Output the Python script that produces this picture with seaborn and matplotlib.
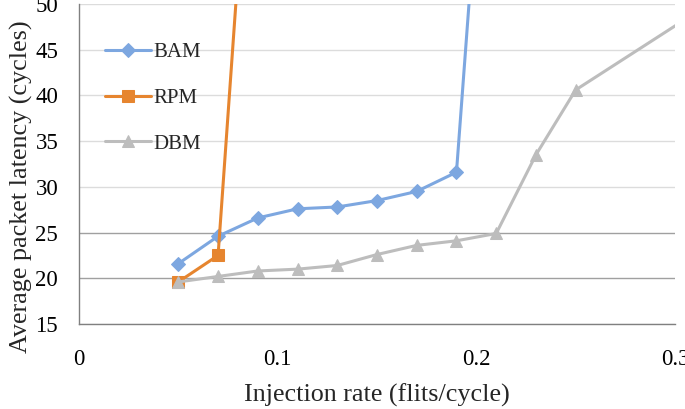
import matplotlib
matplotlib.use("Agg")
import matplotlib.pyplot as plt
import seaborn as sns
import pandas as pd

bam_x = [0.05, 0.07, 0.09, 0.11, 0.13, 0.15, 0.17, 0.19, 0.21]
bam_y = [21.6, 24.6, 26.6, 27.6, 27.8, 28.5, 29.5, 31.6, 90.0]
rpm_x = [0.05, 0.07, 0.09]
rpm_y = [19.6, 22.5, 84.0]
dbm_x = [0.05, 0.07, 0.09, 0.11, 0.13, 0.15, 0.17, 0.19, 0.21, 0.23, 0.25, 0.31]
dbm_y = [19.6, 20.2, 20.8, 21.0, 21.4, 22.6, 23.6, 24.1, 24.9, 33.5, 40.6, 49.0]

series = [("BAM", bam_x, bam_y, "#7da7e0", "D", 7.5),
          ("RPM", rpm_x, rpm_y, "#e6852f", "s", 8.5),
          ("DBM", dbm_x, dbm_y, "#bdbdbd", "^", 9)]

x_ticks = [0, 0.1, 0.2, 0.3]
x_ticklabels = ["0", "0.1", "0.2", "0.3"]
y_ticks = [15, 20, 25, 30, 35, 40, 45, 50]

sns.set_style("white")
plt.rcParams["font.family"] = ["Liberation Serif", "DejaVu Serif"]

fig = plt.figure(figsize=(6.85, 4.09), dpi=100)
ax = fig.add_axes([79/685, 1-324/409, (675-79)/685, (324-4)/409])

for name, xs, ys, col, mk, ms in series:
    df = pd.DataFrame({"x": xs, "y": ys})
    sns.lineplot(data=df, x="x", y="y", ax=ax, color=col, marker=mk,
                 markersize=ms, markeredgecolor=col, linewidth=2.2,
                 label=name, sort=False, clip_on=True)

ax.set_xlim(0, 0.3)
ax.set_ylim(15, 50)
ax.set_xticks(x_ticks)
ax.set_xticklabels(x_ticklabels)
ax.set_yticks(y_ticks)
ax.tick_params(axis="both", labelsize=16.5, colors="#000000", length=6,
               direction="out", width=1)
ax.tick_params(axis="x", color="#808080", pad=12)
ax.tick_params(axis="y", color="#808080", pad=9)

ax.grid(axis="y", linewidth=1)
ax.set_axisbelow(True)
for yv, gl in zip(y_ticks, ax.get_ygridlines()):
    gl.set_color("#a0a0a0" if yv in (20, 25) else "#dcdcdc")
ax.grid(axis="x", visible=False)

for s in ["top", "right"]:
    ax.spines[s].set_visible(False)
for s in ["left", "bottom"]:
    ax.spines[s].set_color("#808080")
    ax.spines[s].set_linewidth(1)

ax.set_xlabel("Injection rate (flits/cycle)", fontsize=18.8, labelpad=10)
ax.set_ylabel("Average packet latency (cycles)", fontsize=18.8, labelpad=8)
ax.yaxis.set_label_coords(-0.078, 0.43)

leg = ax.legend(loc="upper left", bbox_to_anchor=(0.03, 0.905), frameon=False,
                fontsize=15, handlelength=2.2, handletextpad=0.12,
                labelspacing=1.25, borderaxespad=0)

fig.savefig("out.png", dpi=100)
